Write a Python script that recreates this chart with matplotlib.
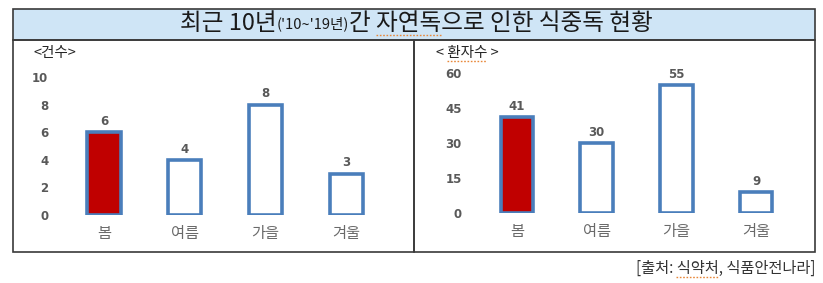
import matplotlib
matplotlib.use("Agg")
import matplotlib.pyplot as plt
from matplotlib.patches import Rectangle
from matplotlib.lines import Line2D

plt.rcParams["font.family"] = ["Noto Sans CJK KR", "DejaVu Sans"]

seasons = ["봄", "여름", "가을", "겨울"]
cases = [6, 4, 8, 3]
patients = [41, 30, 55, 9]
case_ticks = [0, 2, 4, 6, 8, 10]
patient_ticks = [0, 15, 30, 45, 60]

title_main = "최근 10년"
title_small = "('10~'19년)"
title_rest = "간 자연독으로 인한 식중독 현황"
source = "[출처: 식약처, 식품안전나라]"

W, H = 823, 283
RED = "#c00000"
BLUE = "#4a7ebb"
FRAME = "#3a3a3a"
NUM_FONT = dict(family="DejaVu Sans", fontsize=8.5, fontweight="bold", color="#595959")

fig = plt.figure(figsize=(W / 100, H / 100), dpi=100)
renderer = fig.canvas.get_renderer()


def px(x0, y0, x1, y1):
    # pixel box (top-left origin) -> figure fraction rect
    return [x0 / W, 1 - y1 / H, (x1 - x0) / W, (y1 - y0) / H]


def text_width(s, size):
    t = fig.text(0, 0, s, fontsize=size)
    w = t.get_window_extent(renderer).width
    t.remove()
    return w


def squiggle(x0, x1, y):
    # spell-check style dotted underline
    fig.lines.append(Line2D([x0 / W, x1 / W], [1 - y / H, 1 - y / H], transform=fig.transFigure,
                            color="#e8883a", linewidth=1.0, linestyle=(0, (1.2, 1.2))))


# title box and panel frames
fig.patches.append(Rectangle((13 / W, 1 - 40 / H), 802 / W, 31 / H, transform=fig.transFigure,
                             facecolor="#cfe5f6", edgecolor=FRAME, linewidth=1.2))
fig.patches.append(Rectangle((13 / W, 1 - 252 / H), 401 / W, 212 / H, transform=fig.transFigure,
                             facecolor="none", edgecolor=FRAME, linewidth=1.2))
fig.patches.append(Rectangle((414 / W, 1 - 252 / H), 401 / W, 212 / H, transform=fig.transFigure,
                             facecolor="none", edgecolor=FRAME, linewidth=1.2))


def bar_panel(rect, values, ticks, label, label_x):
    ax = fig.add_axes(rect)
    x = range(len(values))
    colors = [RED] + ["white"] * (len(values) - 1)
    bars = ax.bar(x, values, width=0.41, color=colors, edgecolor=BLUE, linewidth=2.6)
    ax.set_xlim(-0.5, len(values) - 0.5)
    ax.set_ylim(0, ticks[-1])
    ax.set_yticks(ticks)
    ax.set_yticklabels([str(t) for t in ticks], **NUM_FONT)
    ax.set_xticks(list(x))
    ax.set_xticklabels(seasons, fontsize=11, color="#6a6a6a")
    ax.tick_params(axis="y", length=0, pad=11)
    ax.tick_params(axis="x", length=0, pad=7)
    for s in ax.spines.values():
        s.set_visible(False)
    ax.set_facecolor("none")
    for b, v in zip(bars, values):
        ax.annotate(str(v), (b.get_x() + b.get_width() / 2, v), xytext=(0, 3),
                    textcoords="offset points", ha="center", va="bottom", **NUM_FONT)
    fig.text(label_x / W, 1 - 53 / H, label, fontsize=10.5, color="#262626", va="center", ha="left")
    return ax


bar_panel(px(63.6, 77, 386.6, 215), cases, case_ticks, "<건수>", 34)
bar_panel(px(477, 73, 796, 213), patients, patient_ticks, "< 환자수 >", 436)

# title with smaller year range in the middle
big, small = 17, 10.5
y_t = 1 - 24 / H
parts = [(title_main, big), (title_small, small), (title_rest, big)]
widths = [text_width(s, f) for s, f in parts]
x = 416 - sum(widths) / 2
title_x = []
for (s, f), w in zip(parts, widths):
    fig.text(x / W, y_t, s, fontsize=f, va="center", ha="left", color="#1a1a1a")
    title_x.append(x)
    x += w

fig.text(815 / W, 1 - 268 / H, source, fontsize=11, ha="right", va="center", color="#333333")

# spell-check underlines
x0 = title_x[2] + text_width("간 ", big)
squiggle(x0, x0 + text_width("자연독", big), 35)
x0 = 436 + text_width("< ", 10.5)
squiggle(x0, x0 + text_width("환자수", 10.5), 61)
x0 = 815 - text_width(source, 11) + text_width("[출처: ", 11)
squiggle(x0, x0 + text_width("식약처", 11), 277)

fig.savefig("out.png", dpi=100)
